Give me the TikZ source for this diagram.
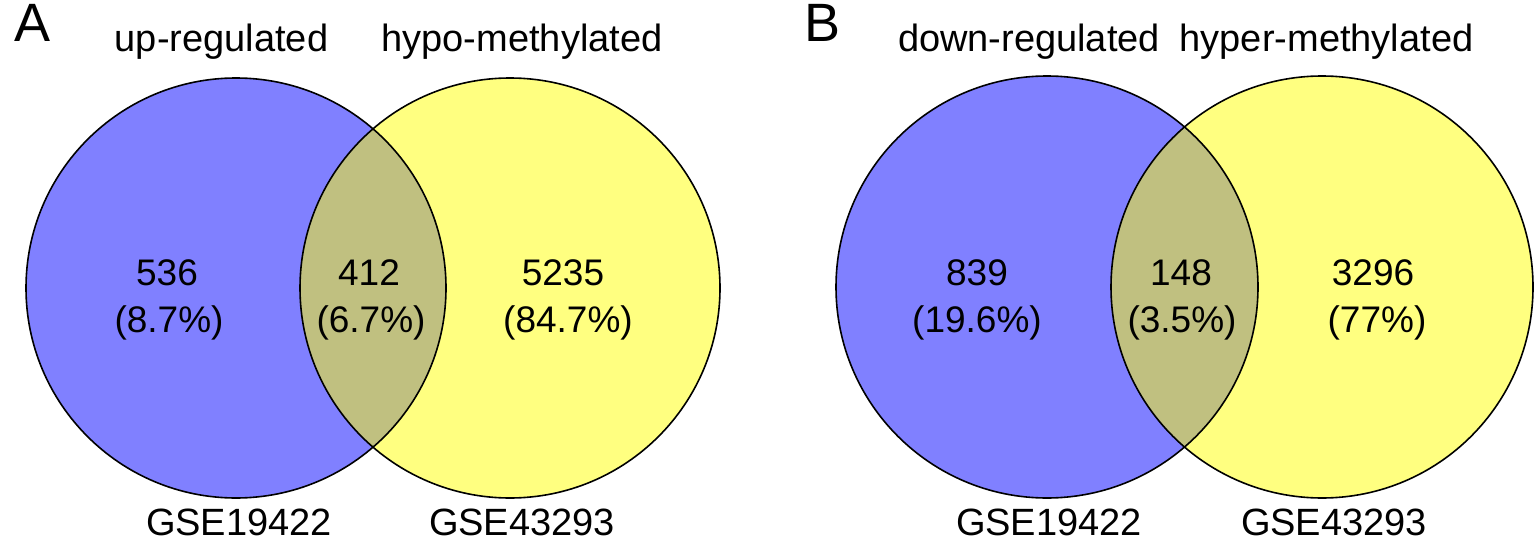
\documentclass[tikz,border=0pt]{standalone}
\usepackage{fontspec}
\setmainfont{Liberation Sans}
\definecolor{vblue}{RGB}{128,128,255}
\definecolor{vyellow}{RGB}{255,255,128}
\definecolor{volive}{RGB}{192,192,128}
\begin{document}
\begin{tikzpicture}[x=1pt,y=-1pt,
  setblue/.style={fill=vblue},
  setyellow/.style={fill=vyellow},
  outline/.style={draw=black,line width=1.6pt},
  lbl/.style={inner sep=0pt,anchor=base,font=\fontsize{38}{42}\selectfont},
  num/.style={inner sep=0pt,anchor=base,font=\fontsize{37}{42}\selectfont},
  panel/.style={inner sep=0pt,anchor=base west,font=\fontsize{54}{60}\selectfont}]
\useasboundingbox (0,0) rectangle (1535,543);

% ---------- Panel A ----------
\fill[setblue] (236,288) circle (210pt);
\fill[setyellow] (510,288) circle (210pt);
\begin{scope}
  \clip (236,288) circle (210pt);
  \fill[volive] (510,288) circle (210pt);
\end{scope}
\draw[outline] (236,288) circle (210pt);
\draw[outline] (510,288) circle (210pt);

\node[panel] (pA) at (14,42) {A};
\node[lbl] (hA1) at (221.5,52) {up-regulated};
\node[lbl] (hA2) at (522,52) {hypo-methylated};
\node[num] (nA1) at (167,285) {536};
\node[num] (pA1) at (169,332) {(8.7\%)};
\node[num] (nA2) at (369,285) {412};
\node[num] (pA2) at (371,332) {(6.7\%)};
\node[num] (nA3) at (563,285) {5235};
\node[num] (pA3) at (568,332) {(84.7\%)};
\node[lbl] (gA1) at (239,535) {GSE19422};
\node[lbl] (gA2) at (522,535) {GSE43293};

% ---------- Panel B ----------
\fill[setblue] (1047,287) circle (211pt);
\fill[setyellow] (1322,287) circle (211pt);
\begin{scope}
  \clip (1047,287) circle (211pt);
  \fill[volive] (1322,287) circle (211pt);
\end{scope}
\draw[outline] (1047,287) circle (211pt);
\draw[outline] (1322,287) circle (211pt);

\node[panel] (pB) at (804,42) {B};
\node[lbl] (hB1) at (1029,52) {down-regulated};
\node[lbl] (hB2) at (1326.5,52) {hyper-methylated};
\node[num] (nB1) at (977,285) {839};
\node[num] (pB1) at (977,332) {(19.6\%)};
\node[num] (nB2) at (1181,285) {148};
\node[num] (pB2) at (1182,332) {(3.5\%)};
\node[num] (nB3) at (1373,285) {3296};
\node[num] (pB3) at (1377,332) {(77\%)};
\node[lbl] (gB1) at (1049,535) {GSE19422};
\node[lbl] (gB2) at (1334,535) {GSE43293};
\end{tikzpicture}
\end{document}
